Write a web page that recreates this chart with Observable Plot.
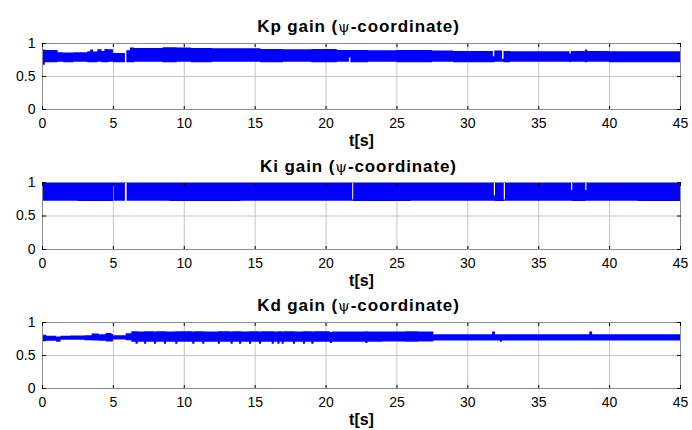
<!DOCTYPE html>
<html>
<head>
<meta charset="utf-8">
<script src="https://cdn.jsdelivr.net/npm/d3@7"></script>
<script src="https://cdn.jsdelivr.net/npm/@observablehq/plot@0.6"></script>
<style>
  html, body { margin: 0; padding: 0; background: #fff; }
  #chart { width: 692px; height: 430px; overflow: hidden; font-family: "Liberation Sans", Arial, sans-serif; }
  #chart svg { display: block; }
</style>
</head>
<body>
<div id="chart"></div>
<script>
// Axis ticks and labels
const xTicks = [0, 5, 10, 15, 20, 25, 30, 35, 40, 45];
const xTickLabels = ["0", "5", "10", "15", "20", "25", "30", "35", "40", "45"];
const yTicks = [0, 0.5, 1];
const yTickLabels = ["0", "0.5", "1"];
const titles = ["Kp gain (ψ-coordinate)", "Ki gain (ψ-coordinate)", "Kd gain (ψ-coordinate)"];
const timeLabel = "t[s]";

// Kp gain: envelope (min / max) of the fast-switching gain over time [s]
const kpT  = [0, 0.2, 1.1, 1.5, 2.2, 3.2, 3.4, 3.6, 3.9, 4.2, 4.4, 4.7, 5.0, 5.85, 5.95, 6.2, 6.5, 8.5, 9.5, 10.5, 12, 15.4, 17, 19, 20.8, 21.65, 21.75, 23, 25, 27.5, 29, 31.8, 31.9, 32.45, 32.55, 33, 37.2, 37.3, 38.3, 38.45, 40, 45];
const kpLo = [0.67, 0.71, 0.715, 0.71, 0.715, 0.71, 0.71, 0.71, 0.715, 0.71, 0.71, 0.715, 0.71, 0.86, 0.71, 0.71, 0.715, 0.71, 0.715, 0.71, 0.715, 0.71, 0.715, 0.71, 0.715, 0.78, 0.71, 0.715, 0.71, 0.715, 0.71, 0.71, 0.715, 0.715, 0.71, 0.715, 0.71, 0.715, 0.71, 0.715, 0.71, 0.71];
const kpHi = [0.90, 0.895, 0.86, 0.855, 0.86, 0.875, 0.90, 0.87, 0.905, 0.88, 0.91, 0.905, 0.85, 0.86, 0.89, 0.93, 0.925, 0.935, 0.93, 0.925, 0.92, 0.91, 0.905, 0.91, 0.895, 0.895, 0.895, 0.89, 0.895, 0.885, 0.88, 0.80, 0.885, 0.76, 0.88, 0.875, 0.84, 0.88, 0.90, 0.88, 0.875, 0.875];

// Ki gain envelope
const kiT  = [0, 2.5, 5.03, 5.07, 5.85, 5.97, 9, 14, 21.88, 21.95, 26, 31.87, 31.95, 32.57, 32.65, 37.32, 37.4, 38.32, 38.4, 42, 45];
const kiLo = [0.72, 0.715, 0.72, 0.72, 0.72, 0.72, 0.715, 0.72, 0.72, 0.715, 0.72, 0.72, 0.715, 0.72, 0.72, 0.72, 0.715, 0.72, 0.72, 0.715, 0.715];
const kiHi = [1.0, 1.0, 0.72, 1.0, 0.72, 1.0, 1.0, 1.0, 0.74, 1.0, 1.0, 0.80, 1.0, 0.74, 1.0, 0.88, 1.0, 0.88, 1.0, 1.0, 1.0];

// Kd gain envelope
const kdT  = [0, 0.3, 1.0, 1.3, 2.0, 3.0, 3.5, 4.0, 4.5, 4.9, 5.0, 5.9, 6.3, 6.6, 6.75, 7.2, 7.35, 7.9, 8.05, 8.6, 8.75, 9.4, 9.55, 10.6, 10.75, 11.3, 11.45, 12.4, 12.55, 13.3, 13.45, 13.9, 14.05, 14.6, 14.75, 15.3, 15.45, 16.2, 16.35, 16.6, 16.75, 16.9, 17.05, 17.7, 17.85, 18.4, 18.55, 19.0, 19.15, 20.3, 20.45, 21.0, 22.8, 22.95, 24, 25.6, 26.5, 27.6, 31.75, 31.95, 32.3, 32.45, 35, 38.6, 38.8, 42, 45];
const kdLo = [0.71, 0.715, 0.70, 0.73, 0.73, 0.725, 0.72, 0.715, 0.705, 0.705, 0.735, 0.725, 0.70, 0.67, 0.70, 0.67, 0.70, 0.67, 0.70, 0.67, 0.70, 0.67, 0.70, 0.67, 0.70, 0.67, 0.70, 0.67, 0.70, 0.67, 0.70, 0.67, 0.70, 0.67, 0.70, 0.67, 0.70, 0.67, 0.70, 0.67, 0.70, 0.67, 0.70, 0.67, 0.70, 0.67, 0.70, 0.67, 0.70, 0.68, 0.70, 0.70, 0.68, 0.70, 0.705, 0.70, 0.705, 0.72, 0.72, 0.72, 0.70, 0.72, 0.72, 0.72, 0.72, 0.72, 0.72];
const kdHi = [0.805, 0.79, 0.78, 0.79, 0.795, 0.80, 0.825, 0.815, 0.835, 0.82, 0.80, 0.83, 0.86, 0.86, 0.855, 0.86, 0.86, 0.855, 0.86, 0.86, 0.855, 0.86, 0.86, 0.855, 0.86, 0.86, 0.855, 0.86, 0.86, 0.855, 0.86, 0.86, 0.855, 0.86, 0.86, 0.855, 0.86, 0.86, 0.855, 0.86, 0.86, 0.855, 0.86, 0.86, 0.855, 0.86, 0.86, 0.855, 0.86, 0.85, 0.855, 0.855, 0.86, 0.855, 0.855, 0.86, 0.855, 0.815, 0.855, 0.815, 0.815, 0.815, 0.815, 0.855, 0.815, 0.815, 0.815];

const font = `"Liberation Sans", Arial, sans-serif`;
const gridColor = "#c4c4c4";

function panel(title, t, lo, hi, {height, marginTop, marginBottom, titleDy}) {
  const rows = t.map((ti, i) => ({t: ti, lo: lo[i], hi: hi[i]}));
  const svg = Plot.plot({
    width: 692,
    height,
    marginLeft: 42,
    marginRight: 12,
    marginTop,
    marginBottom,
    x: {domain: [0, 45]},
    y: {domain: [0, 1]},
    style: {fontFamily: font, background: "#fff", color: "#000", overflow: "visible"},
    marks: [
      Plot.gridX(xTicks, {stroke: gridColor, strokeOpacity: 1}),
      Plot.gridY(yTicks, {stroke: gridColor, strokeOpacity: 1}),
      Plot.areaY(rows, {x: "t", y1: "lo", y2: "hi", curve: "step-after", fill: "#0000ff"}),
      Plot.frame({stroke: "#8c8c8c"}),
      // inward tick marks on all four sides
      Plot.axisX(xTicks, {anchor: "bottom", tickSize: -3, tickFormat: () => "", label: null, stroke: "#000"}),
      Plot.axisX(xTicks, {anchor: "top", tickSize: -3, tickFormat: () => "", label: null, stroke: "#000"}),
      Plot.axisY(yTicks, {anchor: "left", tickSize: -4, tickFormat: () => "", label: null, stroke: "#000"}),
      Plot.axisY(yTicks, {anchor: "right", tickSize: -4, tickFormat: () => "", label: null, stroke: "#000"}),
      // tick labels
      Plot.axisX(xTicks, {anchor: "bottom", tickSize: 0, tickPadding: 9, fontSize: 14, label: null,
        tickFormat: d => xTickLabels[xTicks.indexOf(d)]}),
      Plot.axisY(yTicks, {anchor: "left", tickSize: 0, tickPadding: 7, fontSize: 14, label: null,
        tickFormat: d => yTickLabels[yTicks.indexOf(d)]}),
      // panel title and time label
      Plot.text([title], {text: d => d, frameAnchor: "top", lineAnchor: "bottom", dy: -titleDy, dx: -3,
        fontSize: 17, fontWeight: "bold", fill: "#000"}),
      Plot.text([timeLabel], {text: d => d, frameAnchor: "bottom", lineAnchor: "bottom", dy: 36,
        fontSize: 16, fontWeight: "bold", fill: "#000"})
    ]
  });
  // psi in a lighter face; title slightly tracked out
  d3.select(svg).selectAll("text").each(function() {
    const el = d3.select(this);
    const s = el.text();
    if (s.includes("ψ") && el.selectAll("tspan").empty()) {
      const [a, b] = s.split("ψ");
      el.text(null).attr("letter-spacing", "0.9px");
      el.append("tspan").text(a);
      el.append("tspan").attr("font-weight", "normal").attr("font-family", '"DejaVu Serif", serif').attr("font-size", 15).text("ψ");
      el.append("tspan").text(b);
    }
  });
  return svg;
}

const chart = document.getElementById("chart");
chart.append(panel(titles[0], kpT, kpLo, kpHi, {height: 150, marginTop: 43, marginBottom: 41, titleDy: 12}));
chart.append(panel(titles[1], kiT, kiLo, kiHi, {height: 140, marginTop: 32, marginBottom: 41, titleDy: 11}));
chart.append(panel(titles[2], kdT, kdLo, kdHi, {height: 140, marginTop: 32, marginBottom: 42, titleDy: 12}));
</script>
</body>
</html>
